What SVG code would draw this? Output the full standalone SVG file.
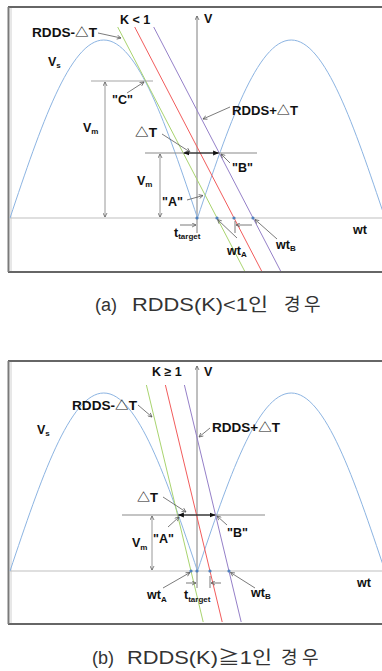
<svg xmlns="http://www.w3.org/2000/svg" width="382" height="671" viewBox="0 0 382 671">
<defs>
<style>
.lbl{font-family:"Liberation Sans","Noto Sans CJK KR",sans-serif;font-weight:bold;fill:#111;font-size:12.5px}
.sub{font-size:8px}
.cap{font-family:"Liberation Sans","Noto Sans CJK KR",sans-serif;font-size:18px;fill:#333}
.sine{fill:none;stroke:#8cb4e2;stroke-width:1}
.axis{stroke:#bfbfbf;stroke-width:1;fill:none}
.vax{stroke:#7f7f7f;stroke-width:1;fill:none}
.green{stroke:#a9d46f;stroke-width:1}
.red{stroke:#f25c5c;stroke-width:1}
.purple{stroke:#9580c8;stroke-width:1}
.hl{stroke:#8a8a8a;stroke-width:1.2}
.vm{stroke:#a6a6a6;stroke-width:1.2}
.lead{stroke:#595959;stroke-width:0.8;fill:none;marker-end:url(#ah)}
.dim{stroke:#7f7f7f;stroke-width:0.8;fill:none;marker-end:url(#ah);marker-start:url(#ah)}
.dt{stroke:#111;stroke-width:1.2;fill:none;marker-end:url(#ahb);marker-start:url(#ahb)}
.tick{stroke:#595959;stroke-width:0.8}
.dot{fill:#4f81bd}
.ftop{stroke:#333;stroke-width:1.5}
.fl1{stroke:#7a7a7a;stroke-width:2}
.fl2{stroke:#d0d0d0;stroke-width:1}
</style>
<marker id="ah" viewBox="0 0 10 10" refX="9" refY="5" markerWidth="5" markerHeight="5" orient="auto-start-reverse" markerUnits="userSpaceOnUse">
<path d="M1,1 L9,5 L1,9" fill="none" stroke="#595959" stroke-width="1.5"/>
</marker>
<marker id="ahb" viewBox="0 0 10 10" refX="9" refY="5" markerWidth="6" markerHeight="6" orient="auto-start-reverse" markerUnits="userSpaceOnUse">
<path d="M0,1 L10,5 L0,9 z" fill="#111"/>
</marker>
</defs>
<rect width="382" height="671" fill="#fff"/>

<!-- Panel (a) -->
<g id="panel-a">
<g id="frame-a">
<line class="ftop" x1="8" y1="7" x2="382" y2="7"/>
<line class="ftop" x1="8" y1="272" x2="382" y2="272"/>
<line class="fl1" x1="8.5" y1="7" x2="8.5" y2="272"/>
<line class="fl2" x1="11" y1="8" x2="11" y2="271"/>
</g>
<g id="axes-a">
<line class="axis" x1="10" y1="218" x2="382" y2="218"/>
<line class="vax" x1="197" y1="233" x2="197" y2="16" marker-end="url(#ah)"/>
</g>
<g id="sine-a">
<path class="sine" d="M10,218 C40.57,126.81 69.82,40 103.75,40 C137.68,40 166.93,126.81 197.5,218 C228.07,126.81 257.32,40 291.25,40 C325.18,40 354.43,126.81 385,218"/>
</g>
<g id="rdds-lines-a">
<line class="green" x1="117.7" y1="27" x2="244.6" y2="271"/>
<line class="red" x1="134.7" y1="27" x2="261.6" y2="271"/>
<line class="purple" x1="153.7" y1="27" x2="280.6" y2="271"/>
</g>
<g id="levels-a">
<line class="vm" x1="91" y1="81" x2="153" y2="81"/>
<line class="hl" x1="145" y1="153" x2="257" y2="153"/>
</g>
<g id="connectors-a">
<line class="dim" x1="105" y1="82" x2="105" y2="217"/>
<line class="dim" x1="160" y1="154" x2="160" y2="217"/>
<line class="dt" x1="184" y1="153" x2="218.5" y2="153"/>
<line class="lead" x1="98" y1="33" x2="121" y2="38"/>
<line class="lead" x1="230" y1="107" x2="203" y2="119"/>
<line class="lead" x1="127" y1="93" x2="144" y2="82"/>
<line class="lead" x1="162" y1="134" x2="190" y2="152"/>
<line class="lead" x1="230" y1="163" x2="221" y2="154"/>
<line class="lead" x1="187" y1="200" x2="203" y2="195.5"/>
<line class="lead" x1="237" y1="238" x2="217.5" y2="219.5"/>
<line class="lead" x1="277" y1="239" x2="255" y2="219.5"/>
<line class="lead" x1="180" y1="225" x2="196" y2="225"/>
<line class="lead" x1="252" y1="225" x2="236" y2="225"/>
<line class="tick" x1="235" y1="221" x2="235" y2="233"/>
</g>
<g id="dots-a">
<circle class="dot" cx="197" cy="218" r="1.6"/>
<circle class="dot" cx="217" cy="218" r="1.6"/>
<circle class="dot" cx="234" cy="218" r="1.6"/>
<circle class="dot" cx="253" cy="218" r="1.6"/>
</g>
<g id="labels-a">
<text class="lbl" x="120" y="24">K &lt; 1</text>
<text class="lbl" x="204" y="23">V</text>
<text class="lbl" x="32" y="37" textLength="65" lengthAdjust="spacingAndGlyphs">RDDS-△T</text>
<text class="lbl" x="48" y="66">V<tspan class="sub" dy="2">s</tspan></text>
<text class="lbl" x="112" y="104">"C"</text>
<text class="lbl" x="83" y="132" font-size="13">V<tspan class="sub" dy="2">m</tspan></text>
<text class="lbl" x="232" y="115" textLength="66" lengthAdjust="spacingAndGlyphs">RDDS+△T</text>
<text class="lbl" x="135" y="137" textLength="22" lengthAdjust="spacingAndGlyphs">△T</text>
<text class="lbl" x="232" y="172">"B"</text>
<text class="lbl" x="137" y="185" font-size="13">V<tspan class="sub" dy="2">m</tspan></text>
<text class="lbl" x="162" y="206">"A"</text>
<text class="lbl" x="174" y="237">t<tspan class="sub" dy="2">target</tspan></text>
<text class="lbl" x="227" y="255">wt<tspan class="sub" dy="2">A</tspan></text>
<text class="lbl" x="276" y="249">wt<tspan class="sub" dy="2">B</tspan></text>
<text class="lbl" x="353" y="234" font-size="13">wt</text>
</g>
</g>
<text id="caption-a" class="cap" y="311"><tspan x="95">(a)</tspan><tspan x="132" textLength="136" lengthAdjust="spacingAndGlyphs">RDDS(K)&lt;1인</tspan><tspan x="284">경</tspan><tspan x="304">우</tspan></text>

<!-- Panel (b) -->
<g id="panel-b">
<g id="frame-b">
<line class="ftop" x1="8" y1="361" x2="382" y2="361"/>
<line class="ftop" x1="8" y1="624" x2="382" y2="624"/>
<line class="fl1" x1="8.5" y1="361" x2="8.5" y2="624"/>
<line class="fl2" x1="11" y1="362" x2="11" y2="623"/>
</g>
<g id="axes-b">
<line class="axis" x1="10" y1="571" x2="382" y2="571"/>
<line class="vax" x1="197" y1="588" x2="197" y2="366" marker-end="url(#ah)"/>
</g>
<g id="sine-b" transform="translate(0,353)">
<path class="sine" d="M10,218 C40.57,126.81 69.82,40 103.75,40 C137.68,40 166.93,126.81 197.5,218 C228.07,126.81 257.32,40 291.25,40 C325.18,40 354.43,126.81 385,218"/>
</g>
<g id="rdds-lines-b">
<line class="green" x1="146.4" y1="385" x2="203.2" y2="622"/>
<line class="red" x1="165.4" y1="385" x2="222.2" y2="622"/>
<line class="purple" x1="184.4" y1="385" x2="241.2" y2="622"/>
</g>
<g id="levels-b">
<line class="hl" x1="122" y1="515" x2="265" y2="515"/>
</g>
<g id="connectors-b">
<line class="dim" x1="152" y1="516" x2="152" y2="570"/>
<line class="dt" x1="178.5" y1="515" x2="215" y2="515"/>
<line class="lead" x1="138" y1="405" x2="152" y2="417"/>
<line class="lead" x1="210" y1="428" x2="199" y2="437"/>
<line class="lead" x1="163" y1="497" x2="186" y2="512"/>
<line class="lead" x1="168" y1="527" x2="179" y2="517"/>
<line class="lead" x1="227" y1="525" x2="217" y2="516"/>
<line class="lead" x1="163" y1="588" x2="190" y2="572.5"/>
<line class="lead" x1="255" y1="588" x2="230.5" y2="572.5"/>
<line class="lead" x1="186" y1="583" x2="196" y2="583"/>
<line class="lead" x1="221" y1="583" x2="211" y2="583"/>
<line class="tick" x1="210" y1="576" x2="210" y2="588"/>
</g>
<g id="dots-b">
<circle class="dot" cx="191" cy="571" r="1.6"/>
<circle class="dot" cx="197" cy="571" r="1.6"/>
<circle class="dot" cx="210" cy="571" r="1.6"/>
<circle class="dot" cx="229" cy="571" r="1.6"/>
</g>
<g id="labels-b">
<text class="lbl" x="152" y="376">K ≥ 1</text>
<text class="lbl" x="204" y="376">V</text>
<text class="lbl" x="72" y="410" textLength="65" lengthAdjust="spacingAndGlyphs">RDDS-△T</text>
<text class="lbl" x="37" y="434">V<tspan class="sub" dy="2">s</tspan></text>
<text class="lbl" x="212" y="432" textLength="68" lengthAdjust="spacingAndGlyphs">RDDS+△T</text>
<text class="lbl" x="137" y="502" textLength="21" lengthAdjust="spacingAndGlyphs">△T</text>
<text class="lbl" x="153" y="543">"A"</text>
<text class="lbl" x="227" y="537">"B"</text>
<text class="lbl" x="132" y="547" font-size="13">V<tspan class="sub" dy="3">m</tspan></text>
<text class="lbl" x="147" y="599">wt<tspan class="sub" dy="3">A</tspan></text>
<text class="lbl" x="184" y="599">t<tspan class="sub" dy="3">target</tspan></text>
<text class="lbl" x="251" y="597">wt<tspan class="sub" dy="2">B</tspan></text>
<text class="lbl" x="357" y="587">wt</text>
</g>
</g>
<text id="caption-b" class="cap" y="664"><tspan x="92">(b)</tspan><tspan x="127" textLength="145" lengthAdjust="spacingAndGlyphs">RDDS(K)≧1인</tspan><tspan x="281">경</tspan><tspan x="302">우</tspan></text>
</svg>
